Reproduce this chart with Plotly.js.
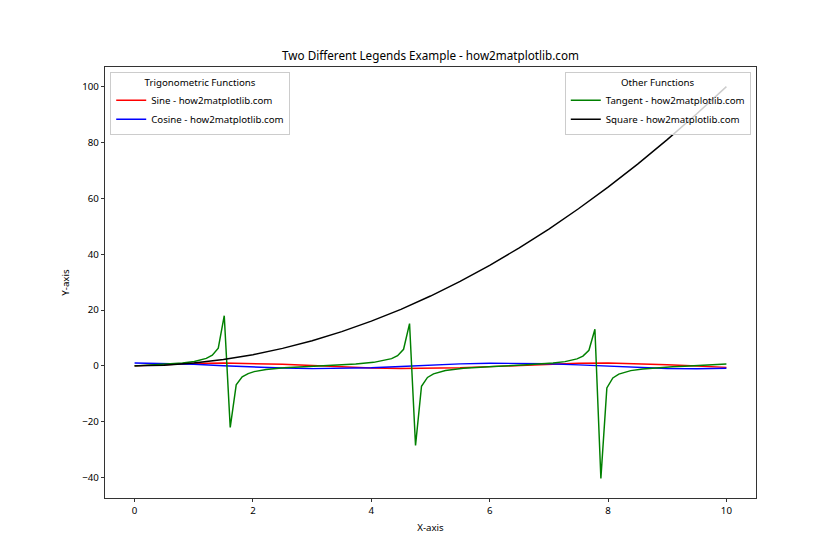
<!DOCTYPE html>
<html>
<head>
<meta charset="utf-8">
<script src="https://cdn.plot.ly/plotly-3.0.1.min.js"></script>
<style>html,body{margin:0;padding:0;background:#fff}#chart{width:840px;height:560px}</style>
</head>
<body>
<div id="chart"></div>
<script>
// Smooth series sampled every 0.5
const xSmooth = [0,0.5,1,1.5,2,2.5,3,3.5,4,4.5,5,5.5,6,6.5,7,7.5,8,8.5,9,9.5,10];
const sineY = [0,0.479,0.841,0.997,0.909,0.598,0.141,-0.351,-0.757,-0.978,-0.959,-0.706,-0.279,0.215,0.657,0.938,0.989,0.798,0.412,-0.075,-0.544];
const cosineY = [1,0.878,0.540,0.071,-0.416,-0.801,-0.990,-0.936,-0.654,-0.211,0.284,0.709,0.960,0.977,0.754,0.347,-0.146,-0.602,-0.911,-0.997,-0.839];
const squareY = [0,0.25,1,2.25,4,6.25,9,12.25,16,20.25,25,30.25,36,42.25,49,56.25,64,72.25,81,90.25,100];

// Tangent values read at the sample points (denser near the spikes)
const xTan = [0,0.202,0.505,0.808,1.010,1.111,1.212,1.313,1.414,1.515,1.616,1.717,1.818,1.919,2.020,2.222,2.525,3.030,3.535,3.737,4.040,4.242,4.343,4.444,4.545,4.646,4.747,4.848,4.949,5.051,5.253,5.556,5.758,6.061,6.566,6.768,7.071,7.273,7.374,7.475,7.576,7.677,7.778,7.879,7.980,8.081,8.182,8.384,8.586,8.788,9.091,9.293,9.596,10];
const tanY = [0,0.205,0.552,1.046,1.592,2.020,2.668,3.795,6.331,17.95,-22.03,-6.783,-3.960,-2.754,-2.073,-1.312,-0.708,-0.112,0.415,0.678,1.258,1.969,2.586,3.642,5.934,15.15,-28.50,-7.303,-4.138,-2.844,-1.668,-0.891,-0.581,-0.226,0.290,0.526,1.004,1.522,1.920,2.509,3.501,5.584,13.10,-40.30,-7.906,-4.333,-2.940,-1.707,-1.113,-0.740,-0.347,-0.133,0.173,0.648];

const seriesNames = ['Sine - how2matplotlib.com','Cosine - how2matplotlib.com','Tangent - how2matplotlib.com','Square - how2matplotlib.com'];
const legendTitles = ['Trigonometric Functions','Other Functions'];

const FONT = 'Noto Sans, Open Sans, sans-serif';
const lw = 1.46;

const traces = [
  {x:xSmooth, y:sineY, name:seriesNames[0], mode:'lines', line:{color:'red', width:lw}, legend:'legend'},
  {x:xSmooth, y:cosineY, name:seriesNames[1], mode:'lines', line:{color:'blue', width:lw}, legend:'legend'},
  {x:xTan, y:tanY, name:seriesNames[2], mode:'lines', line:{color:'green', width:lw}, legend:'legend2'},
  {x:xSmooth, y:squareY, name:seriesNames[3], mode:'lines', line:{color:'black', width:lw}, legend:'legend2'}
];

const axisCommon = {
  showgrid:false, zeroline:false, showline:true, mirror:true,
  linecolor:'black', linewidth:0.8, ticks:'outside', ticklen:3.5, tickwidth:0.8,
  tickcolor:'black', tickfont:{family:FONT, size:9.7, color:'black'}
};

const legendCommon = {
  bgcolor:'rgba(255,255,255,0.8)', bordercolor:'#cccccc', borderwidth:1,
  font:{family:FONT, size:9.7, color:'black'}, yanchor:'top', y:0.988,
  tracegroupgap:0, itemwidth:30
};

const layout = {
  width:840, height:560,
  paper_bgcolor:'white', plot_bgcolor:'white',
  margin:{l:105, r:84, t:67, b:62},
  font:{family:FONT, color:'black'},
  title:{text:'Two Different Legends Example - how2matplotlib.com', font:{family:FONT, size:11.7, color:'black'}, x:0.5, xref:'paper', xanchor:'center', y:1-56/560, yref:'container', yanchor:'middle'},
  xaxis: Object.assign({}, axisCommon, {range:[-0.5,10.5], dtick:2, tick0:0, title:{text:'X-axis', font:{family:FONT, size:9.7, color:'black'}, standoff:8}}),
  yaxis: Object.assign({}, axisCommon, {range:[-47.315,107.015], dtick:20, tick0:0, title:{text:'Y-axis', font:{family:FONT, size:9.7, color:'black'}, standoff:10}}),
  showlegend:true,
  legend: Object.assign({}, legendCommon, {x:0.008, xanchor:'left', title:{text:legendTitles[0], side:'top center', font:{family:FONT, size:9.7, color:'black'}}}),
  legend2: Object.assign({}, legendCommon, {x:0.992, xanchor:'right', title:{text:legendTitles[1], side:'top center', font:{family:FONT, size:9.7, color:'black'}}})
};

Plotly.newPlot('chart', traces, layout, {displayModeBar:false, staticPlot:true});
</script>
</body>
</html>
